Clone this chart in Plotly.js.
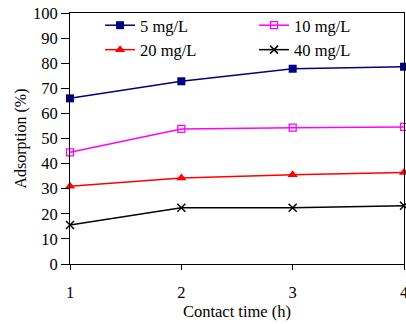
<!DOCTYPE html>
<html>
<head>
<meta charset="utf-8">
<script src="https://cdn.plot.ly/plotly-3.0.1.min.js"></script>
<style>html,body{margin:0;padding:0;background:#fff;}#chart{width:406px;height:324px;}</style>
</head>
<body>
<div id="chart"></div>
<script>
const contactTime = [1, 2, 3, 4];
const seriesNames = ["5 mg/L", "10 mg/L", "20 mg/L", "40 mg/L"];
const conc5 = [66, 72.8, 77.8, 78.6];
const conc10 = [44.5, 53.8, 54.3, 54.6];
const conc20 = [31, 34.3, 35.6, 36.5];
const conc40 = [15.5, 22.4, 22.4, 23.2];

const font = "Liberation Serif, Times New Roman, serif";
const styles = [
  {color: "#000080", symbol: "square", size: 8, lw: 0, legend: "legend"},
  {color: "#FF00FF", symbol: "square-open", size: 7, lw: 1.3, legend: "legend2"},
  {color: "#FF0000", symbol: "triangle-up", size: 9, lw: 0, legend: "legend"},
  {color: "#000000", symbol: "x-thin", size: 8, lw: 1.5, legend: "legend2"}
];
const values = [conc5, conc10, conc20, conc40];
const traces = values.map((v, i) => ({
  x: contactTime, y: v, name: seriesNames[i], type: "scatter", mode: "lines+markers",
  cliponaxis: false, legend: styles[i].legend,
  line: {color: styles[i].color, width: 1.5},
  marker: {color: styles[i].color, symbol: styles[i].symbol, size: styles[i].size,
           line: {color: styles[i].color, width: styles[i].lw}}
}));

const legendCommon = {orientation: "v", yanchor: "top", xanchor: "left",
  font: {family: font, size: 16.5}, bgcolor: "rgba(0,0,0,0)", borderwidth: 0,
  tracegroupgap: 0, itemwidth: 30};

const layout = {
  width: 406, height: 324,
  margin: {l: 70, r: 2, t: 13, b: 60},
  paper_bgcolor: "#fff", plot_bgcolor: "#fff",
  font: {family: font, size: 16.5, color: "#000"},
  showlegend: true,
  legend: Object.assign({}, legendCommon, {x: 0.09, y: 1.02}),
  legend2: Object.assign({}, legendCommon, {x: 0.551, y: 1.02}),
  xaxis: {range: [1, 4], dtick: 1, tick0: 1, showgrid: false, zeroline: false,
          showline: true, linecolor: "#000", linewidth: 1, mirror: true,
          ticks: "outside", ticklen: 5, tickcolor: "#000", ticklabelstandoff: 8,
          ticklabeloverflow: "allow",
          tickfont: {family: font, size: 16.5},
          title: {text: "Contact time (h)", font: {family: font, size: 16.5}, standoff: 0}},
  yaxis: {range: [0, 100], dtick: 10, showgrid: false, zeroline: false,
          showline: true, linecolor: "#000", linewidth: 1, mirror: true,
          ticks: "outside", ticklen: 8, tickcolor: "#000",
          tickfont: {family: font, size: 16.5},
          title: {text: "Adsorption (%)", font: {family: font, size: 16}, standoff: 2}}
};
Plotly.newPlot("chart", traces, layout, {displayModeBar: false, staticPlot: true});
</script>
</body>
</html>
